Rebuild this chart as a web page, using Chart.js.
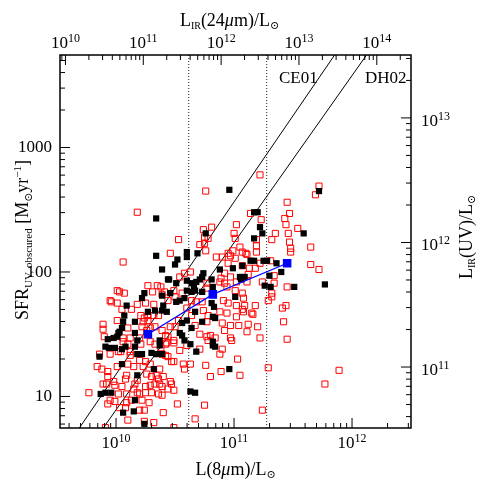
<!DOCTYPE html>
<html>
<head>
<meta charset="utf-8">
<script src="https://cdn.jsdelivr.net/npm/chart.js@4"></script>
<style>
  html, body { margin: 0; padding: 0; background: #fff; }
</style>
</head>
<body>
<canvas id="chart" width="480" height="480"></canvas>
<script>
// values, stored as log10
const redLogL8 = [
  10.18, 10.76, 11.22, 11.72, 11.69, 11.45, 11.14, 11.02, 10.81, 10.74,
  11.47, 11.43, 11.23, 11.44, 11.54, 11.46, 11.35, 11.32, 11.19, 11.47,
  11.19, 11.65, 11.48, 11.48, 11.10, 11.19, 10.53, 10.71, 10.75, 10.75,
  11.05, 10.99, 10.76, 10.95, 10.90, 10.85, 11.07, 11.11, 10.46, 10.97,
  11.01, 10.95, 10.06, 11.22, 11.31, 11.65, 11.72, 11.13, 11.18, 11.07,
  11.34, 11.45, 11.12, 11.11, 11.24, 11.34, 11.32, 11.32, 11.29, 10.58,
  10.63, 10.54, 10.92, 10.97, 10.89, 11.06, 11.02, 10.77, 10.77, 10.88,
  10.92, 10.94, 11.01, 11.07, 11.08, 10.27, 10.35, 10.38, 10.31, 10.39,
  10.01, 10.03, 10.07, 10.41, 10.49, 10.50, 10.56, 10.64, 10.68, 10.73,
  10.44, 9.96, 10.01, 10.05, 10.13, 10.18, 10.25, 10.32, 10.01, 10.21,
  10.24, 10.27, 10.32, 10.36, 10.23, 10.27, 9.89, 9.89, 10.10, 10.22,
  10.26, 10.29, 10.33, 9.90, 10.06, 10.12, 10.20, 10.60, 10.64, 10.74,
  10.78, 10.88, 10.94, 11.02, 11.08, 10.91, 10.95, 11.02, 11.09, 11.07,
  11.15, 11.18, 11.44, 11.41, 11.16, 11.42, 11.12, 11.20, 11.22, 11.45,
  10.53, 10.50, 10.46, 10.67, 10.77, 10.90, 10.97, 10.92, 10.97, 11.04,
  11.11, 10.39, 10.42, 10.44, 10.49, 10.71, 10.77, 10.78, 10.84, 10.42,
  10.06, 10.10, 10.21, 10.29, 10.33, 9.86, 9.95, 10.02, 10.04, 10.12,
  10.12, 10.38, 10.39, 10.43, 10.49, 10.54, 10.60, 10.71, 10.90, 10.88,
  10.98, 10.80, 9.84, 9.88, 10.01, 10.10, 10.15, 10.20, 10.25, 10.29,
  10.23, 10.37, 10.42, 10.44, 10.47, 10.49, 10.57, 10.63, 10.58, 10.76,
  11.03, 10.89, 11.05, 10.80, 9.93, 9.93, 10.09, 10.08, 10.18, 10.26,
  10.30, 10.34, 10.36, 10.40, 10.46, 10.47, 10.39, 10.44, 10.49, 10.39,
  9.89, 9.92, 9.98, 9.99, 10.05, 10.16, 10.15, 10.25, 10.29, 10.33,
  10.37, 9.77, 10.02, 10.09, 10.18, 10.20, 10.25, 10.30, 10.36, 9.93,
  9.95, 9.99, 10.09, 10.13, 10.22, 10.28, 10.03, 10.08, 10.20, 10.24,
  10.40, 10.10, 10.32, 9.91, 10.49, 10.52, 10.75, 10.67, 11.29, 11.89,
  11.77, 11.24, 10.24, 9.95, 10.78, 11.00, 11.01
];
const redLogSFR = [
  2.48, 2.65, 2.78, 2.69, 2.62, 2.56, 2.47, 2.38, 2.36, 2.34,
  2.47, 2.43, 2.42, 2.38, 2.35, 2.31, 2.31, 2.26, 2.26, 2.24,
  2.21, 2.20, 2.19, 2.16, 2.15, 2.16, 2.26, 2.22, 2.23, 2.28,
  2.20, 2.17, 2.17, 2.15, 2.12, 2.12, 2.16, 2.14, 2.15, 2.13,
  2.11, 2.07, 2.08, 2.07, 2.09, 2.06, 2.02, 2.03, 2.03, 2.05,
  1.97, 1.88, 1.98, 1.92, 1.92, 1.91, 1.83, 1.80, 1.77, 1.99,
  2.00, 1.96, 1.99, 1.96, 1.95, 1.95, 1.92, 1.91, 1.87, 1.92,
  1.91, 1.88, 1.85, 1.83, 1.79, 1.89, 1.89, 1.88, 1.84, 1.82,
  1.85, 1.84, 1.83, 1.84, 1.85, 1.80, 1.83, 1.77, 1.76, 1.76,
  1.77, 1.76, 1.75, 1.70, 1.70, 1.74, 1.75, 1.74, 1.61, 1.65,
  1.63, 1.65, 1.65, 1.65, 1.60, 1.61, 1.58, 1.54, 1.55, 1.56,
  1.53, 1.55, 1.56, 1.48, 1.47, 1.47, 1.47, 1.71, 1.65, 1.69,
  1.65, 1.68, 1.67, 1.64, 1.68, 1.77, 1.75, 1.73, 1.73, 1.70,
  1.67, 1.73, 1.73, 1.71, 1.66, 1.60, 1.58, 1.56, 1.47, 1.46,
  1.61, 1.56, 1.56, 1.57, 1.60, 1.59, 1.57, 1.53, 1.47, 1.57,
  1.52, 1.53, 1.49, 1.48, 1.45, 1.50, 1.48, 1.45, 1.47, 1.42,
  1.44, 1.42, 1.42, 1.44, 1.42, 1.34, 1.34, 1.36, 1.36, 1.36,
  1.33, 1.39, 1.34, 1.43, 1.43, 1.37, 1.41, 1.38, 1.38, 1.34,
  1.45, 1.49, 1.24, 1.22, 1.24, 1.26, 1.24, 1.29, 1.28, 1.26,
  1.24, 1.22, 1.33, 1.32, 1.28, 1.28, 1.26, 1.26, 1.22, 1.25,
  1.30, 1.20, 1.17, 1.16, 1.20, 1.16, 1.17, 1.14, 1.13, 1.18,
  1.16, 1.17, 1.14, 1.16, 1.12, 1.10, 1.08, 1.06, 1.05, 1.01,
  1.10, 1.10, 1.12, 1.09, 1.08, 1.10, 1.06, 1.08, 1.09, 1.10,
  1.10, 1.03, 1.02, 1.02, 1.03, 1.02, 1.03, 1.03, 1.02, 0.94,
  0.97, 0.96, 0.95, 0.97, 0.97, 0.95, 0.91, 0.91, 0.89, 0.89,
  0.87, 0.81, 0.79, 0.75, 0.75, 0.94, 0.93, 0.82, 1.23, 1.21,
  1.10, 0.89, 0.80, 1.77, 2.27, 2.31, 2.27
];
const blackLogL8 = [
  10.34, 10.96, 11.17, 11.20, 11.72, 11.22, 11.24, 11.59, 10.76, 11.17,
  11.14, 11.17, 11.25, 11.28, 11.36, 11.07, 11.40, 11.30, 11.51, 11.77,
  11.06, 11.26, 11.31, 10.69, 10.60, 10.60, 10.52, 10.50, 10.34, 10.39,
  10.88, 10.99, 10.74, 10.73, 10.71, 11.05, 11.09, 10.44, 10.51, 10.60,
  10.64, 10.66, 10.68, 10.67, 10.60, 10.64, 10.81, 10.82, 10.73, 11.01,
  10.39, 10.46, 10.54, 10.58, 10.51, 10.40, 10.81, 10.83, 10.43, 10.39,
  10.67, 10.84, 10.82, 10.60, 10.56, 10.73, 10.54, 10.64, 10.58, 10.63,
  10.82, 10.82, 10.84, 10.68, 10.96, 10.63, 10.67, 10.24, 10.22, 10.09,
  10.33, 10.27, 10.07, 10.06, 10.16, 10.05, 10.03, 10.02, 10.01, 9.93,
  9.98, 10.16, 10.18, 10.37, 9.91, 9.94, 9.99, 10.08, 10.05, 10.16,
  10.18, 10.22, 10.30, 10.34, 10.37, 10.39, 10.05, 10.32, 10.18, 9.91,
  9.96, 9.87, 10.16, 10.06, 10.15, 10.24, 10.56, 10.45, 9.86
];
const blackLogSFR = [
  2.43, 2.66, 2.48, 2.48, 2.65, 2.36, 2.31, 2.31, 2.31, 2.27,
  2.09, 2.09, 2.09, 2.09, 2.07, 2.05, 2.00, 1.97, 1.88, 1.90,
  1.94, 1.89, 1.88, 2.15, 2.16, 2.12, 2.10, 2.06, 2.13, 2.02,
  2.02, 2.03, 1.99, 1.96, 1.94, 1.96, 1.96, 1.94, 1.91, 1.93,
  1.91, 1.88, 1.92, 1.85, 1.85, 1.84, 1.94, 1.88, 1.84, 1.80,
  1.81, 1.83, 1.77, 1.79, 1.76, 1.73, 1.75, 1.72, 1.68, 1.69,
  1.68, 1.63, 1.64, 1.61, 1.59, 1.60, 1.51, 1.55, 1.45, 1.42,
  1.44, 1.41, 1.40, 1.36, 1.22, 1.04, 1.03, 1.83, 1.79, 1.73,
  1.69, 1.68, 1.65, 1.60, 1.60, 1.55, 1.52, 1.51, 1.48, 1.46,
  1.47, 1.51, 1.45, 1.45, 1.40, 1.39, 1.39, 1.40, 1.38, 1.40,
  1.34, 1.34, 1.35, 1.34, 1.41, 1.34, 1.26, 1.22, 1.17, 1.03,
  1.03, 1.02, 0.97, 0.87, 0.88, 0.78, 1.49, 1.94, 1.32
];
// binned medians (blue)
const binLogL8 = [10.27, 10.82, 11.45];
const binLogSFR = [1.50, 1.82, 2.07];

// CE01 / DH02 relations, end points (L8, SFR)
const ce01L8 = [3.84e9, 9.2e11];
const ce01SFR = [4.0, 7900];
const dh02L8 = [6.08e9, 1.73e12];
const dh02SFR = [4.0, 7900];

// dotted vertical limits in L(8um)
const limitL8 = [4.13e10, 1.89e11];

// axis ranges
const X_MIN = 3.35e9, X_MAX = 3.16e12;
const Y_MIN = 5.58, Y_MAX = 5534;
const X2_MIN = 8.51e9, X2_MAX = 2.75e14;
const Y2_MIN = 3.24e10, Y2_MAX = 3.2e13;

const FONT = "'Liberation Serif', 'DejaVu Serif', serif";
const BIG = 18, TICK = 17, SUB = 11, EXP = 12;

function toPoints(logX, logY) {
  return logX.map((l, i) => ({ x: Math.pow(10, l), y: Math.pow(10, logY[i]) }));
}

function pairPoints(xs, ys) {
  return xs.map((x, i) => ({ x: x, y: ys[i] }));
}

function axis(position, min, max, size) {
  return {
    type: 'logarithmic',
    position: position,
    min: min,
    max: max,
    grid: { display: false, drawTicks: false },
    border: { display: false },
    ticks: { display: false },
    afterFit: function(s) {
      if (s.isHorizontal()) s.height = size; else s.width = size;
    }
  };
}

function logTicks(min, max) {
  const out = [];
  const e0 = Math.floor(Math.log10(min));
  const e1 = Math.ceil(Math.log10(max));
  for (let e = e0; e <= e1; e++) {
    for (let m = 1; m <= 9; m++) {
      const v = m * Math.pow(10, e);
      if (v >= min * 0.999 && v <= max * 1.001) out.push({ v: v, major: m === 1, e: e });
    }
  }
  return out;
}

// parts: [text, size, dy, style]
function richWidth(ctx, parts) {
  let w = 0;
  parts.forEach(p => {
    ctx.font = (p[3] || '') + ' ' + p[1] + 'px ' + FONT;
    w += ctx.measureText(p[0]).width;
  });
  return w;
}

function drawRich(ctx, parts, x, y, align) {
  const w = richWidth(ctx, parts);
  let cx = x;
  if (align === 'center') cx = x - w / 2;
  if (align === 'right') cx = x - w;
  ctx.textAlign = 'left';
  ctx.textBaseline = 'alphabetic';
  parts.forEach(p => {
    ctx.font = (p[3] || '') + ' ' + p[1] + 'px ' + FONT;
    ctx.fillText(p[0], cx, y + (p[2] || 0));
    cx += ctx.measureText(p[0]).width;
  });
}

function powerLabel(e) {
  return [['10', TICK, 0], [String(e), EXP, -6]];
}

const axesPlugin = {
  id: 'axesPlugin',
  afterDraw(chart) {
    const ctx = chart.ctx;
    const a = chart.chartArea;
    const s = chart.scales;
    ctx.save();
    ctx.fillStyle = '#000';
    ctx.strokeStyle = '#000';

    // frame
    ctx.lineWidth = 1.5;
    ctx.strokeRect(a.left, a.top, a.right - a.left, a.bottom - a.top);

    // inward ticks
    ctx.lineWidth = 1;
    ctx.beginPath();
    logTicks(X_MIN, X_MAX).forEach(t => {
      const px = s.x.getPixelForValue(t.v);
      ctx.moveTo(px, a.bottom);
      ctx.lineTo(px, a.bottom - (t.major ? 10 : 5));
    });
    logTicks(X2_MIN, X2_MAX).forEach(t => {
      const px = s.x2.getPixelForValue(t.v);
      ctx.moveTo(px, a.top);
      ctx.lineTo(px, a.top + (t.major ? 10 : 5));
    });
    logTicks(Y_MIN, Y_MAX).forEach(t => {
      const py = s.y.getPixelForValue(t.v);
      ctx.moveTo(a.left, py);
      ctx.lineTo(a.left + (t.major ? 10 : 5), py);
    });
    logTicks(Y2_MIN, Y2_MAX).forEach(t => {
      const py = s.y2.getPixelForValue(t.v);
      ctx.moveTo(a.right, py);
      ctx.lineTo(a.right - (t.major ? 10 : 5), py);
    });
    ctx.stroke();

    // tick labels
    logTicks(X_MIN, X_MAX).filter(t => t.major).forEach(t => {
      drawRich(ctx, powerLabel(t.e), s.x.getPixelForValue(t.v), a.bottom + 20, 'center');
    });
    logTicks(X2_MIN, X2_MAX).filter(t => t.major).forEach(t => {
      drawRich(ctx, powerLabel(t.e), s.x2.getPixelForValue(t.v), a.top - 7, 'center');
    });
    logTicks(Y_MIN, Y_MAX).filter(t => t.major).forEach(t => {
      drawRich(ctx, [[String(Math.round(t.v)), TICK, 0]], a.left - 8, s.y.getPixelForValue(t.v) + 5, 'right');
    });
    logTicks(Y2_MIN, Y2_MAX).filter(t => t.major).forEach(t => {
      drawRich(ctx, powerLabel(t.e), a.right + 10, s.y2.getPixelForValue(t.v) + 8, 'left');
    });

    // axis titles
    const midX = (a.left + a.right) / 2;
    drawRich(ctx, [['L(8', BIG, 0], ['\u03bc', BIG, 0, 'italic'], ['m)/L', BIG, 0], ['\u2299', SUB, 3]],
      midX, 475, 'center');
    drawRich(ctx, [['L', BIG, 0], ['IR', SUB - 1, 3], ['(24', BIG, 0], ['\u03bc', BIG, 0, 'italic'], ['m)/L', BIG, 0], ['\u2299', SUB, 3]],
      midX - 6, 26, 'center');

    ctx.save();
    ctx.translate(28, 240);
    ctx.rotate(-Math.PI / 2);
    drawRich(ctx, [['SFR', BIG, 0], ['UV, obscured', SUB, 4], [' [M', BIG, 0], ['\u2299', SUB, 4],
      ['yr', BIG, 0], ['\u22121', SUB, -7], [']', BIG, 0]], 0, 0, 'center');
    ctx.restore();

    ctx.save();
    ctx.translate(472, 237);
    ctx.rotate(-Math.PI / 2);
    drawRich(ctx, [['L', BIG, 0], ['IR', SUB - 1, 3], ['(UV)/L', BIG, 0], ['\u2299', SUB, 3]], 0, 0, 'center');
    ctx.restore();

    // relation labels
    drawRich(ctx, [['CE01', TICK, 0]], a.left + 219, a.top + 28, 'left');
    drawRich(ctx, [['DH02', TICK, 0]], a.left + 305, a.top + 28, 'left');

    ctx.restore();
  }
};

const lineStyle = {
  showLine: true,
  pointRadius: 0,
  borderColor: '#000',
  borderWidth: 1,
  order: 5
};

new Chart(document.getElementById('chart').getContext('2d'), {
  type: 'scatter',
  data: {
    datasets: [
      Object.assign({ label: 'CE01', data: pairPoints(ce01L8, ce01SFR) }, lineStyle),
      Object.assign({ label: 'DH02', data: pairPoints(dh02L8, dh02SFR) }, lineStyle),
      Object.assign({ label: 'lim1', data: pairPoints([limitL8[0], limitL8[0]], [Y_MIN, Y_MAX]) }, lineStyle,
        { borderDash: [1, 2], borderColor: '#222' }),
      Object.assign({ label: 'lim2', data: pairPoints([limitL8[1], limitL8[1]], [Y_MIN, Y_MAX]) }, lineStyle,
        { borderDash: [1, 2], borderColor: '#222' }),
      {
        label: 'UV',
        data: toPoints(redLogL8, redLogSFR),
        pointStyle: 'rect',
        pointRadius: 4.3,
        borderWidth: 1,
        borderColor: '#ff0000',
        backgroundColor: 'rgba(0,0,0,0)',
        order: 3
      },
      {
        label: 'IR',
        data: toPoints(blackLogL8, blackLogSFR),
        pointStyle: 'rect',
        pointRadius: 4.4,
        borderWidth: 0,
        borderColor: '#000',
        backgroundColor: '#000',
        order: 2
      },
      {
        label: 'median',
        data: toPoints(binLogL8, binLogSFR),
        showLine: true,
        pointStyle: 'rect',
        pointRadius: 5.2,
        borderWidth: 1.2,
        borderColor: '#0000ff',
        backgroundColor: '#0000ff',
        order: 1
      }
    ]
  },
  options: {
    responsive: false,
    animation: false,
    layout: { padding: 0 },
    plugins: {
      legend: { display: false },
      tooltip: { enabled: false }
    },
    scales: {
      x: axis('bottom', X_MIN, X_MAX, 52),
      x2: axis('top', X2_MIN, X2_MAX, 55),
      y: axis('left', Y_MIN, Y_MAX, 60),
      y2: axis('right', Y2_MIN, Y2_MAX, 69)
    }
  },
  plugins: [axesPlugin]
});
</script>
</body>
</html>
